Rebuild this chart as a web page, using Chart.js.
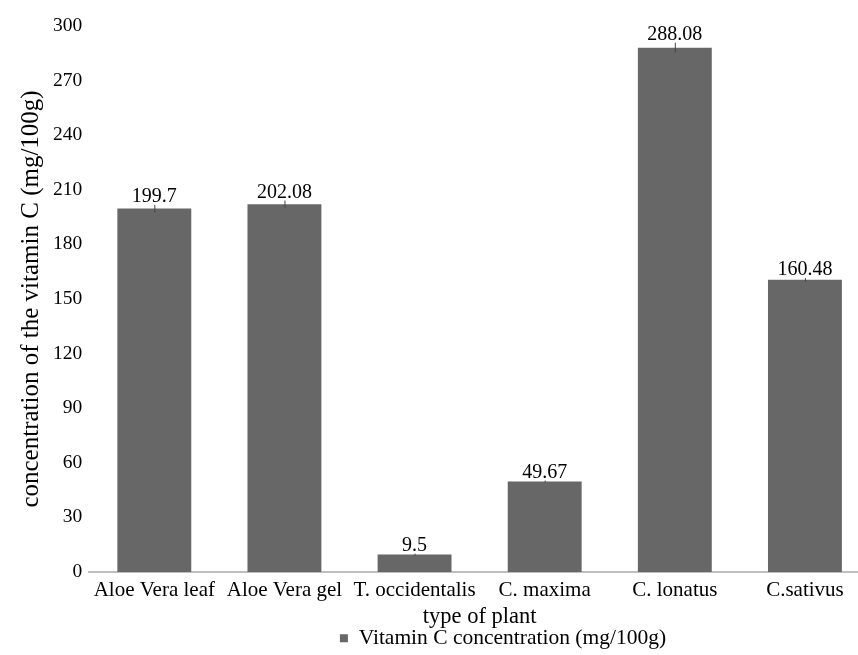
<!DOCTYPE html>
<html>
<head>
<meta charset="utf-8">
<script src="https://cdn.jsdelivr.net/npm/chart.js@4/dist/chart.umd.min.js"></script>
<style>
  html, body { margin: 0; padding: 0; background: #fff; overflow: hidden; }
  #wrap { width: 872px; height: 655px; }
</style>
</head>
<body>
<div id="wrap"><canvas id="plantChart"></canvas></div>
<script>
const plants = ['Aloe Vera leaf', 'Aloe Vera gel', 'T. occidentalis', 'C. maxima', 'C. lonatus', 'C.sativus'];
const vitaminC = [199.7, 202.08, 9.5, 49.67, 288.08, 160.48];
const errors = [2, 2, 0.5, 0.5, 2.7, 1];
const valueLabels = ['199.7', '202.08', '9.5', '49.67', '288.08', '160.48'];

const serif = '"Liberation Serif", "Times New Roman", serif';

// draws the small error ticks and the value labels above each bar
const barExtras = {
  id: 'barExtras',
  afterDatasetsDraw(chart) {
    const ctx = chart.ctx;
    const y = chart.scales.y;
    const meta = chart.getDatasetMeta(0);
    ctx.save();
    meta.data.forEach((bar, i) => {
      const top = y.getPixelForValue(vitaminC[i] + errors[i]);
      const bot = y.getPixelForValue(vitaminC[i] - errors[i]);
      ctx.strokeStyle = '#444';
      ctx.lineWidth = 1;
      ctx.beginPath();
      ctx.moveTo(bar.x + 0.5, top);
      ctx.lineTo(bar.x + 0.5, bot);
      ctx.stroke();
      ctx.fillStyle = '#000';
      ctx.font = '20px ' + serif;
      ctx.textAlign = 'center';
      ctx.textBaseline = 'bottom';
      ctx.fillText(valueLabels[i], bar.x, top + 2);
    });
    ctx.restore();
  }
};

// the legend in the picture sits right of centre
const legendShift = {
  id: 'legendShift',
  afterLayout(chart) {
    chart.legend.left += 60;
    chart.legend.right += 60;
  }
};

new Chart(document.getElementById('plantChart'), {
  type: 'bar',
  data: {
    labels: plants,
    datasets: [{
      label: 'Vitamin C concentration (mg/100g)',
      data: vitaminC,
      backgroundColor: '#676767',
      borderWidth: 0,
      categoryPercentage: 1,
      barPercentage: 0.568
    }]
  },
  options: {
    responsive: true,
    maintainAspectRatio: false,
    animation: false,
    layout: { padding: { left: 16, right: 2, top: 26, bottom: -4 } },
    plugins: {
      tooltip: { enabled: false },
      legend: {
        position: 'bottom',
        labels: {
          color: '#000',
          font: { family: serif, size: 21.5 },
          boxWidth: 8,
          boxHeight: 8,
          padding: 2
        }
      }
    },
    scales: {
      x: {
        grid: { display: false, drawTicks: false },
        border: { color: '#bfbfbf', width: 2 },
        ticks: { color: '#000', font: { family: serif, size: 21, lineHeight: 1.0 }, maxRotation: 0, autoSkip: false, padding: 8 },
        title: { display: true, text: 'type of plant', color: '#000', font: { family: serif, size: 22.5, lineHeight: 1.05 }, padding: { top: -4, bottom: -3 } }
      },
      y: {
        min: 0,
        max: 300,
        grid: { display: false, drawTicks: false },
        border: { display: false },
        ticks: { stepSize: 30, color: '#000', font: { family: serif, size: 19.5 }, padding: 7 },
        title: { display: true, text: 'concentration of the vitamin C (mg/100g)', color: '#000', font: { family: serif, size: 25 }, padding: { top: 0, bottom: 0 } }
      }
    }
  },
  plugins: [barExtras, legendShift]
});
</script>
</body>
</html>
